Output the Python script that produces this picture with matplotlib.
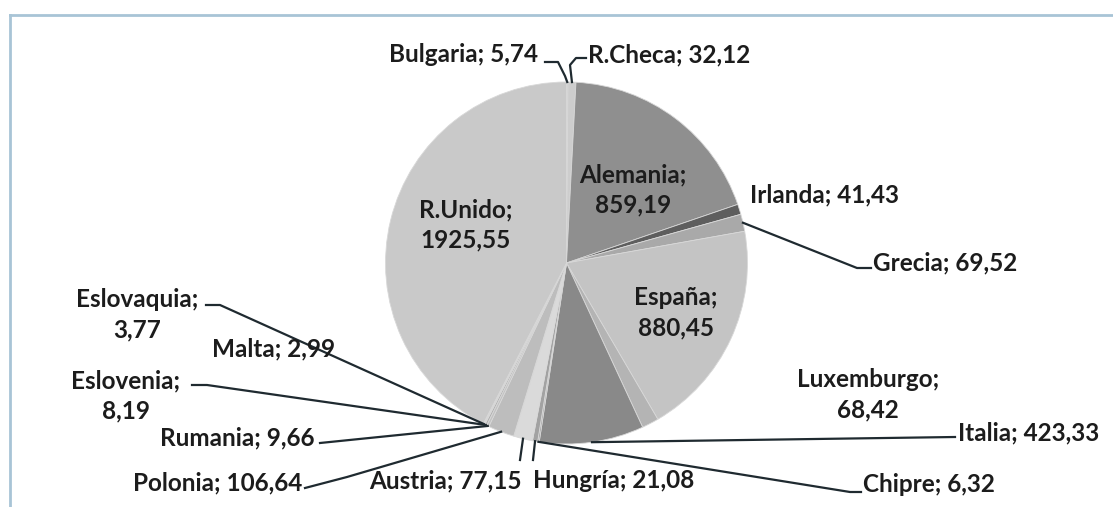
import matplotlib
matplotlib.use("Agg")
import matplotlib.pyplot as plt
import numpy as np

plt.rcParams['font.family'] = ['Lato', 'DejaVu Sans']

# datos (sentido horario desde arriba)
paises = ['Bulgaria', 'R.Checa', 'Alemania', 'Irlanda', 'Grecia', 'España',
          'Luxemburgo', 'Italia', 'Chipre', 'Hungría', 'Austria', 'Polonia',
          'Rumania', 'Eslovenia', 'Malta', 'Eslovaquia', 'R.Unido']
valores = [5.74, 32.12, 859.19, 41.43, 69.52, 880.45,
           68.42, 423.33, 6.32, 21.08, 77.15, 106.64,
           9.66, 8.19, 2.99, 3.77, 1925.55]
colores = ['#c4c4c4', '#cdcdcd', '#8f8f8f', '#5e5e5e', '#a9a9a9', '#c4c4c4',
           '#b4b4b4', '#898989', '#9a9a9a', '#a2a2a2', '#dadada', '#bdbdbd',
           '#c2c2c2', '#b0b0b0', '#d0d0d0', '#bcbcbc', '#c9c9c9']
dos_lineas = ['Alemania', 'R.Unido', 'España', 'Luxemburgo', 'Eslovenia', 'Eslovaquia']

W, H = 1113, 507
cx, cy, R = 566.5, 263, 181

# posicion de etiquetas (pixeles): x, y, alineacion
etiq = {
    'Bulgaria':   (538, 55, 'right'),
    'R.Checa':    (588, 55, 'left'),
    'Alemania':   (633, 190, 'center'),
    'R.Unido':    (466, 225, 'center'),
    'Irlanda':    (750, 195, 'left'),
    'Grecia':     (873, 263, 'left'),
    'España':     (676, 313, 'center'),
    'Luxemburgo': (868, 395, 'center'),
    'Italia':     (958, 433, 'left'),
    'Chipre':     (863, 485, 'left'),
    'Hungría':    (533, 481, 'left'),
    'Austria':    (522, 481, 'right'),
    'Polonia':    (302, 483, 'right'),
    'Rumania':    (315, 438, 'right'),
    'Eslovenia':  (126, 396, 'center'),
    'Malta':      (212, 349, 'left'),
    'Eslovaquia': (137, 315, 'center'),
}
# lineas guia (puntos despues del borde del pastel)
guias = {
    'Bulgaria':   [(565, 76), (558, 62), (545, 62)],
    'R.Checa':    [(570, 65), (576, 58), (586, 58)],
    'Grecia':     [(857, 268), (871, 268)],
    'Italia':     [(955, 437)],
    'Chipre':     [(850, 492), (861, 492)],
    'Hungría':    [(533, 460)],
    'Austria':    [(520, 460)],
    'Polonia':    [(347, 477), (305, 488)],
    'Rumania':    [(320, 443)],
    'Eslovenia':  [(207, 385), (192, 385)],
    'Eslovaquia': [(220, 305), (206, 305)],
}

fig = plt.figure(figsize=(W / 100, H / 100), dpi=100)
ax = fig.add_axes([0, 0, 1, 1])

wedges, _ = ax.pie(valores, colors=colores, startangle=90, counterclock=False,
                   center=(cx, H - cy), radius=R,
                   wedgeprops=dict(edgecolor='#d8d8d8', linewidth=0.6))
ax.set_xlim(0, W)
ax.set_ylim(0, H)
ax.set_aspect('equal')
ax.axis('off')

for w, p, v in zip(wedges, paises, valores):
    txt = f"{v:.2f}".replace('.', ',')
    sep = ';\n' if p in dos_lineas else '; '
    x, y, ha = etiq[p]
    ax.text(x, H - y, p + sep + txt, ha=ha, va='center', fontsize=17.5,
            fontweight='bold', color='#1c1c1c', linespacing=1.4, zorder=5)
    if p in guias:
        ang = np.deg2rad((w.theta1 + w.theta2) / 2)
        x0 = cx + R * np.cos(ang)
        y0 = H - cy + R * np.sin(ang)
        xs = [x0] + [q[0] for q in guias[p]]
        ys = [y0] + [H - q[1] for q in guias[p]]
        ax.plot(xs, ys, color='#1f2a30', lw=1.6, zorder=4)

# marco
ax.plot([10, 10], [0, H - 15], color='#a8c4d6', lw=2)
ax.plot([10, W], [H - 15, H - 15], color='#a8c4d6', lw=2)

fig.savefig('out.png', dpi=100)
